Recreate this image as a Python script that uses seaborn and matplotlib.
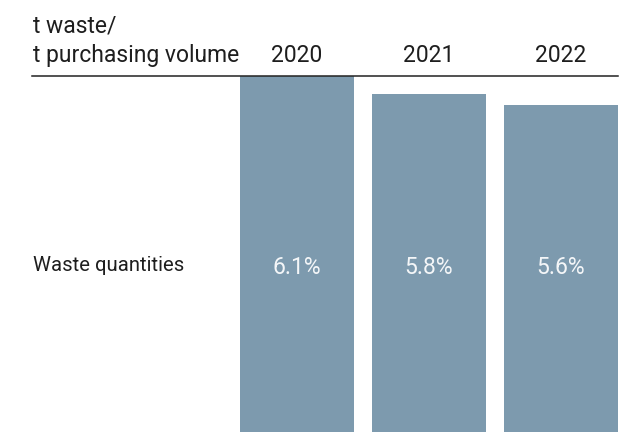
import matplotlib
matplotlib.use("Agg")
import matplotlib.pyplot as plt
import matplotlib.transforms as mtransforms
import seaborn as sns
import pandas as pd

years = ["2020", "2021", "2022"]
values = [6.1, 5.8, 5.6]
value_labels = ["6.1%", "5.8%", "5.6%"]
row_label = "Waste quantities"
header_lines = ["t waste/", "t purchasing volume"]

sns.set_theme(style="white")
plt.rcParams["font.family"] = ["Roboto", "DejaVu Sans"]

W, H = 626, 432
fig = plt.figure(figsize=(W / 100, H / 100), dpi=100)
ax_left, ax_right, ax_top = 32, 618, 76
ax = fig.add_axes([ax_left / W, 0, (ax_right - ax_left) / W, (H - ax_top) / H])

df = pd.DataFrame({"year": years, "value": values})
sns.barplot(data=df, x="year", y="value", color="#7d9aae", saturation=1,
            width=0.864, ax=ax, edgecolor="none")

unit = 132.0
c0 = 297.0
ax.set_xlim((ax_left - c0) / unit, (ax_right - c0) / unit)
ax.set_ylim(0, max(values))
ax.set_xlabel("")
ax.set_ylabel("")
ax.set_xticks([])
ax.set_yticks([])
for s in ["left", "right", "bottom"]:
    ax.spines[s].set_visible(False)
ax.spines["top"].set_visible(True)
ax.spines["top"].set_color("#222222")
ax.spines["top"].set_linewidth(1.1)
ax.set_facecolor("none")

def fy(py):
    return 1 - py / H

trans = mtransforms.blended_transform_factory(ax.transData, fig.transFigure)
text_color = "#1e1e1e"
for i, (yr, lab) in enumerate(zip(years, value_labels)):
    ax.text(i, fy(62), yr, transform=trans, ha="center", va="baseline",
            fontsize=16.5, color=text_color)
    ax.text(i, fy(274), lab, transform=trans, ha="center", va="baseline",
            fontsize=16.5, color="#f4f6f8")

fig.text(33 / W, fy(33), header_lines[0], ha="left", va="baseline",
         fontsize=16.5, color=text_color)
fig.text(33 / W, fy(62), header_lines[1], ha="left", va="baseline",
         fontsize=16.5, color=text_color)
fig.text(33 / W, fy(271), row_label, ha="left", va="baseline",
         fontsize=14.6, color=text_color)

fig.savefig("out.png", dpi=100)
